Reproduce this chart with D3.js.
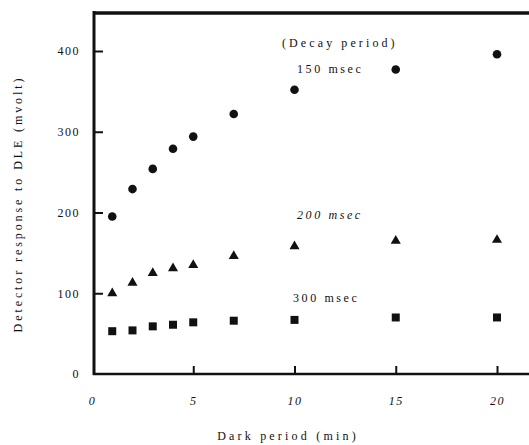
<!DOCTYPE html>
<html>
<head>
<meta charset="utf-8">
<script src="https://cdnjs.cloudflare.com/ajax/libs/d3/7.8.5/d3.min.js"></script>
<style>
  body { margin: 0; background: #fff; }
  text { font-family: "Liberation Serif", "DejaVu Serif", serif; fill: #111; }
</style>
</head>
<body>
<div id="chart"></div>
<script>
// Data
var darkPeriod = [1, 2, 3, 4, 5, 7, 10, 15, 20];
var decay150 = [195, 229, 254, 279, 294, 322, 352, 377, 396];
var decay200 = [100, 113, 125, 131, 135, 146, 158, 165, 166];
var decay300 = [53, 54, 59, 61, 64, 66, 67, 70, 70];
var seriesNames = ["150 msec", "200 msec", "300 msec"];
var xTicks = [0, 5, 10, 15, 20];
var yTicks = [0, 100, 200, 300, 400];

var width = 529;
var height = 445;

var svg = d3.select("#chart")
  .append("svg")
  .attr("width", width)
  .attr("height", height);

// Scales
var x = d3.scaleLinear().domain([0, 20]).range([92, 497]);
var y = d3.scaleLinear().domain([0, 400]).range([374, 51]);

// Frame lines (left, top, bottom)
svg.append("line")
  .attr("x1", 94).attr("x2", 94)
  .attr("y1", 11).attr("y2", 375)
  .attr("stroke", "#111").attr("stroke-width", 3);
svg.append("line")
  .attr("x1", 93).attr("x2", width)
  .attr("y1", 13).attr("y2", 13)
  .attr("stroke", "#111").attr("stroke-width", 3.5);
svg.append("line")
  .attr("x1", 93).attr("x2", width)
  .attr("y1", y(0)).attr("y2", y(0))
  .attr("stroke", "#111").attr("stroke-width", 2.5);

// Y axis
var yAxis = svg.append("g")
  .attr("transform", "translate(94,0)")
  .call(d3.axisLeft(y).tickValues(yTicks).tickSize(-9).tickPadding(14));
yAxis.select(".domain").remove();
yAxis.selectAll(".tick line")
  .attr("stroke", "#111").attr("stroke-width", 2)
  .filter(function(d) { return d === 0; }).remove();
yAxis.selectAll(".tick text")
  .style("font-size", "12px")
  .style("letter-spacing", "1.5px")
  .attr("fill", "#111");

// X axis
var xAxis = svg.append("g")
  .attr("transform", "translate(0," + y(0) + ")")
  .call(d3.axisBottom(x).tickValues(xTicks).tickSize(-8).tickPadding(22));
xAxis.select(".domain").remove();
xAxis.selectAll(".tick line")
  .attr("stroke", "#111").attr("stroke-width", 2)
  .filter(function(d) { return d === 0; }).remove();
xAxis.selectAll(".tick text")
  .style("font-size", "12px")
  .style("font-style", "italic")
  .style("letter-spacing", "1.5px")
  .attr("fill", "#111");

// Axis titles
svg.append("text")
  .attr("transform", "translate(22,204) rotate(-90)")
  .attr("text-anchor", "middle")
  .style("font-size", "12px")
  .style("letter-spacing", "2.9px")
  .text("Detector response to DLE (mvolt)");

svg.append("text")
  .attr("x", 288)
  .attr("y", 440)
  .attr("text-anchor", "middle")
  .style("font-size", "12px")
  .style("letter-spacing", "3.2px")
  .text("Dark period (min)");

// Markers
function plotSeries(values, symbolType, size) {
  svg.append("g")
    .selectAll("path")
    .data(values)
    .enter()
    .append("path")
    .attr("transform", function(d, i) {
      return "translate(" + x(darkPeriod[i]) + "," + y(d) + ")";
    })
    .attr("d", d3.symbol().type(symbolType).size(size))
    .attr("fill", "#111");
}
plotSeries(decay150, d3.symbolCircle, 58);
plotSeries(decay200, d3.symbolTriangle, 44);
plotSeries(decay300, d3.symbolSquare, 64);

// Annotations
svg.append("text")
  .attr("x", 282).attr("y", 47)
  .style("font-size", "12px")
  .style("letter-spacing", "3.1px")
  .text("(Decay period)");

svg.append("text")
  .attr("x", 297).attr("y", 73)
  .style("font-size", "12px")
  .style("letter-spacing", "2.6px")
  .text(seriesNames[0]);

svg.append("text")
  .attr("x", 297).attr("y", 219)
  .style("font-size", "12px")
  .style("font-style", "italic")
  .style("letter-spacing", "2.6px")
  .text(seriesNames[1]);

svg.append("text")
  .attr("x", 293).attr("y", 302)
  .style("font-size", "12px")
  .style("letter-spacing", "2.6px")
  .text(seriesNames[2]);
</script>
</body>
</html>
